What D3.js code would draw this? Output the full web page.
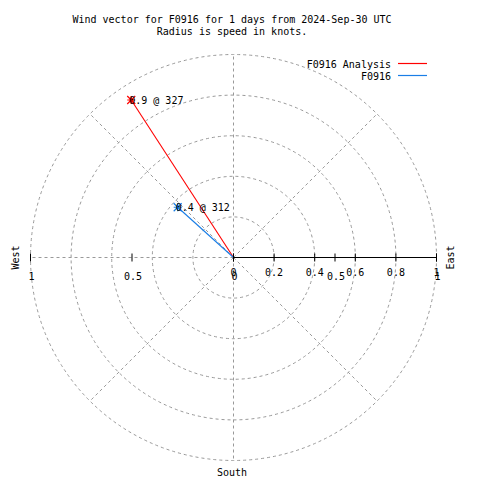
<!DOCTYPE html>
<html><head><meta charset="utf-8">
<script src="https://cdn.jsdelivr.net/npm/d3@7"></script>
<style>
html,body{margin:0;padding:0;background:#fff;}
text{font-family:"DejaVu Sans Mono","Liberation Mono",monospace;font-size:10px;fill:#000;}
</style></head>
<body>
<script>
const titleLines = ["Wind vector for F0916 for 1 days from 2024-Sep-30 UTC", "Radius is speed in knots."];
const seriesNames = ["F0916 Analysis", "F0916"];
const seriesColors = ["#ff0000", "#1a7ee6"];
const speeds = [0.925, 0.37];
const directions = [327, 312];
const vectorLabels = ["0.9 @ 327", "0.4 @ 312"];
const rTicks = [0, 0.2, 0.4, 0.6, 0.8, 1];
const xTicks = [-1, -0.5, 0, 0.5, 1];
const gridRadii = [0.2, 0.4, 0.6, 0.8, 1];
const spokeAngles = [0, 45, 90, 135, 180, 225, 270, 315];

const W = 480, H = 480, cx = 233.5, cy = 257.5, R = 203;
const svg = d3.select("body").append("svg").attr("width", W).attr("height", H);
const r = d3.scaleLinear().domain([0, 1]).range([0, R]);
const x = d3.scaleLinear().domain([-1, 1]).range([cx - R, cx + R]);
const gridCol = "#999999";

// title
svg.selectAll("text.title").data(titleLines).enter().append("text")
  .attr("x", 232).attr("y", (d, i) => 23 + i * 12).attr("text-anchor", "middle").text(d => d);

const g = svg.append("g").attr("transform", `translate(${cx},${cy})`);
// grid circles
g.selectAll("circle.grid").data(gridRadii).enter().append("circle")
  .attr("r", d => r(d)).attr("fill", "none").attr("stroke", gridCol)
  .attr("stroke-width", 1).attr("stroke-dasharray", "3,3");
// spokes (compass bearing, clockwise from north)
g.selectAll("line.spoke").data(spokeAngles).enter().append("line")
  .attr("x1", 0).attr("y1", 0)
  .attr("x2", d => r(1) * Math.sin(d * Math.PI / 180))
  .attr("y2", d => -r(1) * Math.cos(d * Math.PI / 180))
  .attr("stroke", gridCol).attr("stroke-dasharray", "3,3");

// r axis (solid black) to the east
g.append("line").attr("x1", 0).attr("y1", 0).attr("x2", r(1)).attr("y2", 0).attr("stroke", "#000");
g.selectAll("line.rtick").data(rTicks).enter().append("line")
  .attr("x1", d => r(d)).attr("x2", d => r(d)).attr("y1", -4).attr("y2", 4).attr("stroke", "#000");
g.selectAll("text.rlab").data(rTicks).enter().append("text")
  .attr("x", d => r(d)).attr("y", 18.5).attr("text-anchor", "middle").text(d => d3.format("~g")(d));

// x axis ticks (absolute values)
svg.selectAll("line.xtick").data(xTicks).enter().append("line")
  .attr("x1", d => x(d)).attr("x2", d => x(d)).attr("y1", cy - 4).attr("y2", cy + 4).attr("stroke", "#000");
svg.selectAll("text.xlab").data(xTicks).enter().append("text")
  .attr("x", d => x(d) + 1).attr("y", cy + 22.5).attr("text-anchor", "middle").text(d => d3.format("~g")(Math.abs(d)));

// compass labels
svg.append("text").attr("transform", `translate(19,${cy}) rotate(-90)`).attr("text-anchor", "middle").text("West");
svg.append("text").attr("transform", `translate(454,${cy}) rotate(-90)`).attr("text-anchor", "middle").text("East");
svg.append("text").attr("x", 232).attr("y", 476).attr("text-anchor", "middle").text("South");

// vectors
const pts = speeds.map((s, i) => ({
  name: seriesNames[i], color: seriesColors[i], label: vectorLabels[i],
  x: r(s) * Math.sin(directions[i] * Math.PI / 180),
  y: -r(s) * Math.cos(directions[i] * Math.PI / 180)
}));
g.selectAll("line.vec").data(pts).enter().append("line")
  .attr("x1", 0).attr("y1", 0).attr("x2", d => d.x).attr("y2", d => d.y)
  .attr("stroke", d => d.color).attr("stroke-width", 1.1);
const star = d3.symbol().type({draw(ctx, size) {
  const s = 4;
  ctx.moveTo(-s, 0); ctx.lineTo(s, 0);
  ctx.moveTo(0, -s); ctx.lineTo(0, s);
  ctx.moveTo(-s, -s); ctx.lineTo(s, s);
  ctx.moveTo(-s, s); ctx.lineTo(s, -s);
}}).size(1);
g.selectAll("path.mark").data(pts).enter().append("path")
  .attr("d", star).attr("transform", d => `translate(${d.x},${d.y})`)
  .attr("stroke", d => d.color).attr("stroke-width", 1.2).attr("fill", "none");
g.selectAll("text.vlab").data(pts).enter().append("text")
  .attr("x", d => d.x - 2).attr("y", d => d.y + 4).text(d => d.label);

// legend
const leg = svg.selectAll("g.leg").data(seriesNames).enter().append("g")
  .attr("transform", (d, i) => `translate(0,${63.5 + i * 12})`);
leg.append("text").attr("x", 391).attr("y", 4).attr("text-anchor", "end").text(d => d);
leg.append("line").attr("x1", 398).attr("x2", 427).attr("y1", 0).attr("y2", 0)
  .attr("stroke", (d, i) => seriesColors[i]).attr("stroke-width", 1.2);
</script>
</body></html>
